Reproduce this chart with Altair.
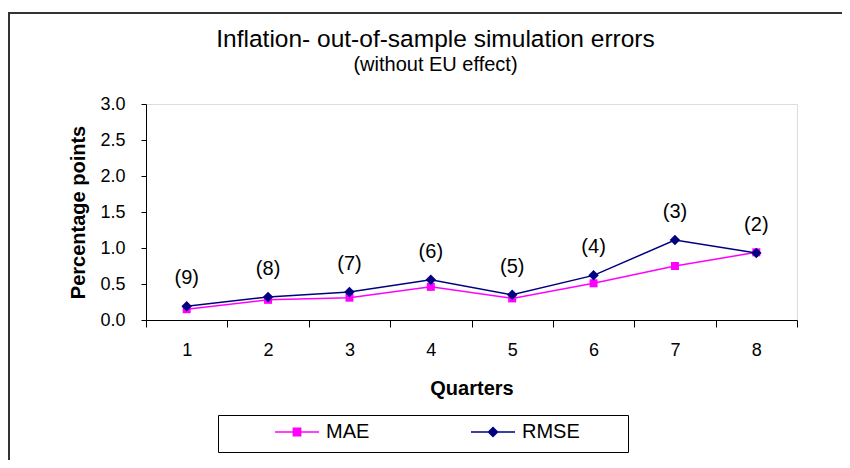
import altair as alt
import pandas as pd

quarters = [1, 2, 3, 4, 5, 6, 7, 8]
mae = [0.15, 0.28, 0.31, 0.46, 0.30, 0.51, 0.75, 0.94]
rmse = [0.19, 0.32, 0.39, 0.56, 0.35, 0.62, 1.11, 0.93]
point_labels = ["(9)", "(8)", "(7)", "(6)", "(5)", "(4)", "(3)", "(2)"]
series_names = ["MAE", "RMSE"]
series_colors = ["#FF00FF", "#000080"]
y_ticks = [0.0, 0.5, 1.0, 1.5, 2.0, 2.5, 3.0]

FONT = "Liberation Sans"

rows = []
for q, m in zip(quarters, mae):
    rows.append({"quarter": q, "series": "MAE", "value": m})
for q, r in zip(quarters, rmse):
    rows.append({"quarter": q, "series": "RMSE", "value": r})
df = pd.DataFrame(rows)
lab_df = pd.DataFrame({"quarter": quarters, "value": rmse, "label": point_labels})
frame_df = pd.DataFrame({"k": [0]})

x_enc = alt.X(
    "quarter:O",
    scale=alt.Scale(type="band", paddingInner=0, paddingOuter=0),
    axis=alt.Axis(
        title="Quarters", labelAngle=0, tickBand="extent", tickSize=7,
        domainColor="black", tickColor="black", labelColor="black",
        labelFontSize=18, labelFont=FONT, labelPadding=14,
        titleFont=FONT, titleFontSize=20, titleFontWeight="bold",
        titleColor="black", titlePadding=19, grid=False,
    ),
)
y_enc = alt.Y(
    "value:Q",
    scale=alt.Scale(domain=[0, 3]),
    axis=alt.Axis(
        title="Percentage points", values=y_ticks, format=".1f", tickSize=5,
        domainColor="black", tickColor="black", labelColor="black",
        labelFontSize=18, labelFont=FONT, labelPadding=16,
        titleFont=FONT, titleFontSize=20, titleFontWeight="bold",
        titleColor="black", titlePadding=11, grid=False,
    ),
)

def series_layers(name, color, shape, size):
    base = alt.Chart(df).transform_filter(alt.datum.series == name)
    line = base.mark_line(strokeWidth=1.5, color=color).encode(
        x=x_enc, y=y_enc, order=alt.Order("quarter:O")
    )
    pts = base.mark_point(shape=shape, filled=True, size=size, opacity=1, color=color).encode(
        x=x_enc, y=y_enc
    )
    return line, pts

line_mae, pts_mae = series_layers("MAE", series_colors[0], "square", 64)
line_rmse, pts_rmse = series_layers("RMSE", series_colors[1], "diamond", 110)

texts = alt.Chart(lab_df).mark_text(
    fontSize=20, font=FONT, color="black", dy=-28, baseline="middle"
).encode(x=x_enc, y=y_enc, text="label:N")

# legend symbols: a thin bar (the line) plus the marker, all filled
sq_path = "M-2.75,-0.09H2.75V0.09H-2.75Z M-0.55,-0.55H0.55V0.55H-0.55Z"
dia_path = "M-2.75,-0.09H2.75V0.09H-2.75Z M0,-0.7L0.7,0L0,0.7L-0.7,0Z"

legend_layer = alt.Chart(df).transform_calculate(value="5").mark_point(
    filled=True, opacity=1, clip=True, size=256
).encode(
    x=x_enc, y=y_enc,
    color=alt.Color("series:N", scale=alt.Scale(domain=series_names, range=series_colors)),
    shape=alt.Shape(
        "series:N",
        scale=alt.Scale(domain=series_names, range=[sq_path, dia_path]),
        legend=alt.Legend(
            title=None, orient="none", legendX=72, legendY=311,
            direction="horizontal", columns=2, columnPadding=51,
            symbolSize=256, symbolOffset=62, symbolOpacity=1,
            labelOffset=19, labelFontSize=20, labelFont=FONT, labelColor="black",
            padding=7,
        ),
    ),
)

# decorative outer frame and legend box
frame = alt.Chart(frame_df).mark_rect(
    fillOpacity=0, stroke="#333333", strokeWidth=2
).encode(
    x=alt.value(-137), x2=alt.value(720), y=alt.value(-91), y2=alt.value(380)
)
legend_box = alt.Chart(frame_df).mark_rect(
    fill="white", stroke="black", strokeWidth=1
).encode(
    x=alt.value(72.5), x2=alt.value(482.5), y=alt.value(311.5), y2=alt.value(348.5)
)

chart = alt.layer(
    frame, legend_box, line_mae, line_rmse, pts_mae, pts_rmse, texts, legend_layer
).properties(
    width=651, height=216,
    autosize=alt.AutoSizeParams(type="none"),
    padding={"left": 138, "top": 96, "right": 45, "bottom": 140},
    title=alt.TitleParams(
        text="Inflation- out-of-sample simulation errors",
        subtitle="(without EU effect)",
        font=FONT, subtitleFont=FONT, fontSize=24.5, subtitleFontSize=20,
        fontWeight="normal", color="black", subtitleColor="black",
        anchor="middle", dx=-36, offset=-64, subtitlePadding=3,
    ),
).configure_view(stroke="#808080", strokeWidth=1).configure(background="white")

chart.save("out.html", embed_options={"renderer": "svg", "actions": False})
